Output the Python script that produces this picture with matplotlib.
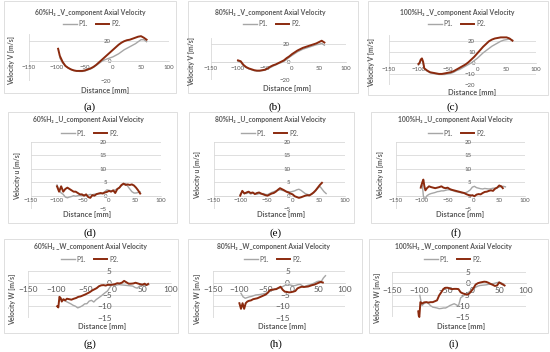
import numpy as np
import matplotlib
matplotlib.use("Agg")
import matplotlib.pyplot as plt
from matplotlib.patches import Rectangle
from matplotlib.lines import Line2D

plt.rcParams['font.family'] = ['Lato', 'DejaVu Sans']

# ---------------- data ----------------
# (a) 60% V
a_p2_x = [-98, -95, -90, -85, -80, -75, -70, -65, -60, -55, -50, -45, -40, -35, -30, -25, -20, -15, -10, -5, 0, 5, 10, 15, 20, 25, 30, 35, 40, 45, 50, 55, 60]
a_p2_y = [12, 5, -1, -5, -7, -8.5, -9.5, -10, -10, -10, -9.5, -8.5, -7.5, -6, -4, -1.5, 1, 3.5, 6, 8.5, 11, 13.5, 16, 18, 19.5, 20.5, 21, 22, 23, 24, 24.5, 23, 21]
a_p1_x = list(range(-95, 61, 5))
a_p1_y = [3, -2, -5, -7, -8.5, -9.5, -10, -10.5, -10.5, -10, -9, -8, -6.5, -4.5, -2.5, -0.5, 1, 2, 3, 4, 5.5, 7, 9, 11, 12.5, 14, 15.5, 17, 19, 21, 21, 19]
# (b) 80% V
b_x = list(range(-100, 61, 5))
b_p2_y = [2, 1, -3, -5.5, -7, -8, -9, -9.5, -9.5, -9, -8.5, -7, -5, -3.5, -2.5, -1, 0.5, 2, 4.5, 6.5, 9, 11, 13, 14.5, 16, 17, 18, 19, 20, 21, 22.5, 24, 22]
b_p1_y = [1, 0, -4, -6, -7.5, -8.5, -9.5, -10, -10, -9.5, -9, -7.5, -6, -4.5, -3, -1.5, -0.5, 1, 3, 5.5, 7.5, 9.5, 11.5, 13, 14.5, 15.5, 16.5, 17.5, 18.5, 19.5, 20, 21, 19]
# (c) 100% V
c_x = [-100, -98, -96, -94, -92, -90] + list(range(-85, 61, 5))
c_p2_y = [-1, 0, 3, 4, 1, -5, -7, -8.5, -9, -9.5, -10, -10, -9.5, -9, -8.5, -7.5, -6, -4.5, -3, -1.5, 0.5, 3, 5.5, 8.5, 11.5, 14.5, 17, 19.5, 21, 22, 22.5, 23, 23, 23, 22, 20]
c_p1_y = [-2, -1, 2, 3, 0, -5, -7.5, -9, -9.5, -10, -10.5, -10.5, -10.5, -10, -9.5, -8.5, -7, -6, -4.5, -3, -1.5, 0, 2, 4, 6.5, 9, 11, 13, 15, 16.5, 18, 19.5, 20.5, 21, 21.5, 20.5]
# (d) 60% u
d_x = list(range(-100, 61, 4))
d_p2_y = [3.5, 1.5, 3.5, 1.5, 2.5, 3, 2.5, 2, 1.5, 1.5, 1, 0.5, 0.5, 0, 0.5, -0.5, -0.8, 0.2, 0, 0.6, 0.8, 1, 0.8, 1.2, 1.4, 1.8, 1.5, 2, 1, 2.5, 3, 4, 4.5, 4, 4.2, 4, 4.2, 3.8, 3, 2, 0.8]
d_p1_y = [4, 2, 1, 0.5, -0.5, -0.8, -0.5, -0.3, 0, -0.2, 0, 0.2, 0, 0.3, 0, 0.2, 0.5, 0.3, 0.6, 0.5, 0.8, 0.7, 1, 1.5, 2.2, 2, 1.8, 1.9, 2.2, 2.5, 3, 3.8, 4.2, 4.5, 3.5, 2.5, 1.5, 1, 1, 1.2, 1.4]
# (e) 80% u
e_p2_x = list(range(-100, 57, 4))
e_p2_y = [0, 1.8, 0.8, 1.2, 1.5, 1, 1.2, 0.6, 1, 1.2, 0.8, 0.5, 0.2, 0, 0.4, 0.8, 1, 1.5, 2.2, 2.8, 2.4, 2, 1.5, 1.2, 0.8, 0.5, -0.2, -0.5, -0.8, -0.6, -0.3, 0, 0.2, 0.1, 0.6, 1.2, 2, 3, 4, 4.8]
e_p1_x = list(range(-100, 65, 4))
e_p1_y = [0.5, 1.5, 1, 0.8, 1.2, 0.6, 1, 0.8, 0.5, 0.8, 0.6, 0.8, 0.5, 0.4, 0.8, 1.2, 1.5, 1.8, 2, 2.2, 2, 1.8, 1.6, 1.5, 1.4, 1.6, 1.8, 2.2, 2.4, 2, 1.4, 0.8, 0.5, 0.3, 0.5, 1, 1.8, 2.8, 3.5, 2.5, 1.5, 0.8]
# (f) 100% u
f_p2_x = [-102, -99, -97, -95, -93] + list(range(-90, 55, 4)) + [57]
f_p2_y = [3, 5, 6, 3.5, 2, 2.8, 3.5, 3.2, 3, 2.8, 3, 3.2, 3.5, 3, 2.8, 3, 2.5, 2.2, 2, 1.8, 1.6, 1.4, 1.2, 1, 0.6, 0.3, 0, 0.2, -0.2, 0.4, 0.6, 0.5, 1, 1.4, 1.5, 1.8, 2, 1.8, 2.6, 3, 3.8, 3.5, 2.8]
f_p1_x = [-102, -99, -97, -95, -93] + list(range(-90, 63, 4))
f_p1_y = [3.5, 4, 0, -1.2, -1, 0, 0.5, 0.8, 1, 1.2, 1.5, 1.6, 1.8, 1.8, 2, 2.2, 2.2, 2, 1.8, 1.5, 1.4, 1.2, 1, 1, 1.2, 1.6, 2.2, 3.2, 3.5, 3, 2.8, 2.6, 2.5, 2.7, 2.6, 2.5, 2.6, 2.8, 2.8, 3, 3.2, 3.4, 3.5, 3.3]
# (g) 60% W
g_p2_x = [-99, -97, -95, -93, -91, -88, -85, -82] + list(range(-78, 55, 4)) + [57, 60]
g_p2_y = [-10, -10.5, -6, -6.5, -8, -7, -7.5, -6.8, -7, -7.2, -6.8, -6.5, -6, -5.8, -5.4, -5, -4.5, -4, -3.3, -2.8, -2.3, -1.5, -1.1, -1, -1.2, -0.8, -0.9, -0.8, -0.6, -0.2, -0.3, 0, 0.8, 0.2, -0.4, -0.4, -0.3, 0, -0.3, -0.6, -0.8, -0.4, -1, -0.5]
g_p1_x = list(range(-95, 62, 4))
g_p1_y = [-6, -7, -7.5, -8, -8.5, -9, -9.6, -10, -10.7, -10.3, -9.8, -9, -8.9, -7.8, -7.5, -8.2, -7.2, -6.5, -5.8, -5, -4.2, -3.5, -2, -0.8, -1.1, -1, -0.8, -0.9, -1, -1.1, -1.2, -1.3, -1.4, -2, -2.3, -1.4, -1.2, -1.1, -0.9, -0.8]
# (h) 80% W
h_p2_x = [-100, -97, -94, -91, -88, -85, -82] + list(range(-78, 59, 4))
h_p2_y = [-8.7, -11.1, -8.7, -11.1, -8.7, -8, -7.7, -7.5, -7, -6.8, -6.6, -6.2, -5.8, -5.4, -5, -4.2, -3.1, -3, -2.8, -2.7, -2.2, -1.7, -3, -3.8, -3.9, -4.1, -4, -3.8, -3.5, -2.4, -2, -1.7, -1.8, -1.7, -1.6, -1.3, -1, -0.8, -0.4, 0, 0.4, 0.1]
h_p1_x = list(range(-97, 64, 4))
h_p1_y = [-4.5, -6, -6.6, -6.3, -6, -5.8, -5.5, -5.2, -5.1, -5, -4.8, -4.6, -4.5, -4, -3.4, -3.1, -2.8, -2.4, -2.2, -2, -1.5, -1, -1.1, -0.9, -1.1, -1.3, -1.1, -0.8, -0.7, -1.2, -1.7, -1.3, -1, -0.8, -0.4, 0, 0.5, 0.7, 0.5, 2, 3]
# (i) 100% W
i_p2_x = [-101, -100, -99, -97, -94] + list(range(-90, 59, 4)) + [60]
i_p2_y = [-12.5, -14.5, -15, -8.4, -9, -8.5, -8.4, -8.6, -8.4, -8.4, -8, -7.6, -5.4, -4, -2.5, -2, -2, -2.4, -2.6, -2.5, -2.5, -2.6, -4, -4.5, -4.8, -5.1, -4.6, -3.5, -2.2, -0.6, 0, 0.3, 0.5, 0.7, 0.6, 0.2, -0.3, -0.7, -1.2, -1, 0.4, -0.2, -0.7, -1]
i_p1_x = [-98, -96, -94] + list(range(-90, 59, 4))
i_p1_y = [-5.4, -8, -9.9, -9, -8.4, -9, -10, -10.6, -10.8, -11, -11.3, -11.2, -11, -11, -10.5, -9.9, -9.5, -9.1, -9.6, -10.1, -6.5, -5.8, -5.1, -4.5, -3.8, -3, -2.4, -1.8, -1.3, -1, -0.9, -0.8, -0.7, -0.5, -0.3, -0.2, 0, 0.3, 0.4, 0.1, -0.3]

titles = ["60%H\u2082 _V_component Axial Velocity", "80%H\u2082 _V_component Axial Velocity", "100%H\u2082 _V_component Axial Velocity",
          "60%H\u2082 _U_component Axial Velocity", "80%H\u2082 _U_component Axial Velocity", "100%H\u2082 _U_component Axial Velocity",
          "60%H\u2082 _W_component Axial Velocity", "80%H\u2082 _W_component Axial Velocity", "100%H\u2082 _W_component Axial Velocity"]
ylabels = ["Velocity V [m/s]"] * 3 + ["Velocity u [m/s]"] * 3 + ["Velocity W [m/s]"] * 3
panel_tags = ["(a)", "(b)", "(c)", "(d)", "(e)", "(f)", "(g)", "(h)", "(i)"]
xticks = [-150, -100, -50, 0, 50, 100]
series = [(a_p1_x, a_p1_y, a_p2_x, a_p2_y), (b_x, b_p1_y, b_x, b_p2_y), (c_x, c_p1_y, c_x, c_p2_y),
          (d_x, d_p1_y, d_x, d_p2_y), (e_p1_x, e_p1_y, e_p2_x, e_p2_y), (f_p1_x, f_p1_y, f_p2_x, f_p2_y),
          (g_p1_x, g_p1_y, g_p2_x, g_p2_y), (h_p1_x, h_p1_y, h_p2_x, h_p2_y), (i_p1_x, i_p1_y, i_p2_x, i_p2_y)]

# ---------------- layout (pixels) ----------------
W, H = 550, 352
def fx(p): return p / W
def fy(p): return 1 - p / H

layout = [
    dict(xl=29, xr=169, yr=(20, 40.7, -20, 81), ylim=(-20, 27), yt=[-20, 0, 20], ts=4.4, tpad=3,
         box=(4, 1, 176, 93), title=(90, 12), leg=(92, 24), xlab=(105, 91), ylab=(12, 61), tag=(90, 107)),
    dict(xl=211, xr=346, yr=(20, 44.3, -20, 80), ylim=(-20, 27), yt=[-20, 0, 20], ts=4.4, tpad=3,
         box=(188, 1, 358, 93), title=(270, 13), leg=(272, 24), xlab=(287, 89), ylab=(192, 62), tag=(275, 107)),
    dict(xl=389, xr=536, yr=(20, 40.7, -20, 85), ylim=(-20, 25), yt=[-20, -10, 0, 10, 20], ts=4.4, tpad=3,
         box=(368, 1, 548, 95), title=(457, 12), leg=(457, 24), xlab=(472, 92), ylab=(372, 63), tag=(453, 107)),
    dict(xl=31, xr=161, yr=(20, 142, 0, 195.7), ylim=(-5, 20), yt=[-5, 0, 5, 10, 15, 20], ts=4.4, tpad=1.5,
         box=(8, 112, 177, 223), title=(88, 120), leg=(90, 133), xlab=(87, 215), ylab=(18, 176), tag=(90, 233)),
    dict(xl=214, xr=345, yr=(20, 142, 0, 195.7), ylim=(-5, 20), yt=[-5, 0, 5, 10, 15, 20], ts=4.4, tpad=1.5,
         box=(189, 112, 354, 223), title=(270, 120), leg=(270, 133), xlab=(281, 215), ylab=(198, 175), tag=(276, 233)),
    dict(xl=396, xr=525, yr=(20, 142, 0, 195.7), ylim=(-5, 20), yt=[-5, 0, 5, 10, 15, 20], ts=4.4, tpad=1.5,
         box=(371, 112, 548, 223), title=(455, 120), leg=(457, 133), xlab=(460, 215), ylab=(381, 175), tag=(456, 233)),
    dict(xl=28, xr=171, yr=(5, 271, -15, 318), ylim=(-15, 5), yt=[-15, -10, -5, 0, 5], ts=6.0, tpad=2.5,
         box=(4, 239, 178, 333), title=(90, 246), leg=(90, 259), xlab=(102, 327), ylab=(13, 299), tag=(90, 344)),
    dict(xl=213, xr=345, yr=(5, 271, -15, 318), ylim=(-15, 5), yt=[-15, -10, -5, 0, 5], ts=6.0, tpad=2.5,
         box=(188, 239, 362, 333), title=(273, 246), leg=(273, 259), xlab=(282, 327), ylab=(198, 299), tag=(276, 344)),
    dict(xl=392, xr=526, yr=(5, 272, -15, 317), ylim=(-15, 5), yt=[-15, -10, -5, 0, 5], ts=6.0, tpad=2.5,
         box=(369, 239, 548, 333), title=(453, 246), leg=(453, 259), xlab=(461, 326.5), ylab=(378, 298), tag=(454, 344)),
]

P1_COLOR = '#a6a6a6'
P2_COLOR = '#8B2A0E'
GRID = '#d9d9d9'
TXT = '#595959'

fig = plt.figure(figsize=(5.5, 3.52), dpi=100)
fig.patch.set_facecolor('white')

for k, L in enumerate(layout):
    v1, p1, v2, p2 = L['yr']
    kpx = (p2 - p1) / (v1 - v2)
    ymin, ymax = L['ylim']
    pb = p1 + (v1 - ymin) * kpx
    pt = p1 - (ymax - v1) * kpx
    ax = fig.add_axes([fx(L['xl']), fy(pb), (L['xr'] - L['xl']) / W, (pb - pt) / H])
    ax.set_facecolor('none')
    ax.set_xlim(-150, 100)
    ax.set_ylim(ymin, ymax)
    ax.set_xticks(xticks)
    ax.set_yticks(L['yt'])
    ax.set_axisbelow(True)
    ax.yaxis.grid(True, color=GRID, lw=0.6)
    ax.xaxis.grid(False)
    for s in ['top', 'right']:
        ax.spines[s].set_visible(False)
    ax.spines['left'].set_position(('data', 0))
    ax.spines['left'].set_linewidth(0)
    ax.spines['bottom'].set_position(('data', 0))
    ax.spines['bottom'].set_color(GRID)
    ax.spines['bottom'].set_linewidth(0.6)
    ax.axvline(-150, color=GRID, lw=0.6, zorder=0.5)
    ax.axvline(100, color=GRID, lw=0.6, zorder=0.5)
    ax.tick_params(axis='both', length=0, labelsize=L['ts'], labelcolor=TXT)
    ax.tick_params(axis='x', pad=L['tpad'])
    ax.tick_params(axis='y', pad=1.5)

    x1, y1, x2, y2 = series[k]
    ax.plot(x1, y1, color=P1_COLOR, lw=1.0, clip_on=False, zorder=3)
    ax.plot(x2, y2, color=P2_COLOR, lw=1.4, clip_on=False, zorder=4)

    handles = [Line2D([], [], color=P1_COLOR, lw=1.0), Line2D([], [], color=P2_COLOR, lw=1.4)]
    ax.legend(handles, ['P1.', 'P2.'], ncol=2, loc='center',
              bbox_to_anchor=(fx(L['leg'][0]), fy(L['leg'][1])), bbox_transform=fig.transFigure,
              frameon=False, fontsize=4.8, handlelength=2.0, handletextpad=0.3,
              columnspacing=1.2, borderpad=0, labelcolor=TXT)

    fig.text(fx(L['title'][0]), fy(L['title'][1]), titles[k], ha='center', va='center',
             fontsize=4.9, color=TXT, fontweight='bold')
    fig.text(fx(L['xlab'][0]), fy(L['xlab'][1]), "Distance [mm]", ha='center', va='center',
             fontsize=5.3, color=TXT, fontweight='bold')
    fig.text(fx(L['ylab'][0]), fy(L['ylab'][1]), ylabels[k], ha='center', va='center',
             fontsize=4.9, color=TXT, fontweight='bold', rotation=90)
    fig.text(fx(L['tag'][0]), fy(L['tag'][1]), panel_tags[k], ha='center', va='center',
             fontsize=8, color='black', family=['Liberation Serif', 'DejaVu Serif'])
    bx0, by0, bx1, by1 = L['box']
    fig.add_artist(Rectangle((fx(bx0), fy(by1)), (bx1 - bx0) / W, (by1 - by0) / H,
                             transform=fig.transFigure, fill=False, ec=GRID, lw=0.6))

fig.savefig("out.png", dpi=100, facecolor='white')
